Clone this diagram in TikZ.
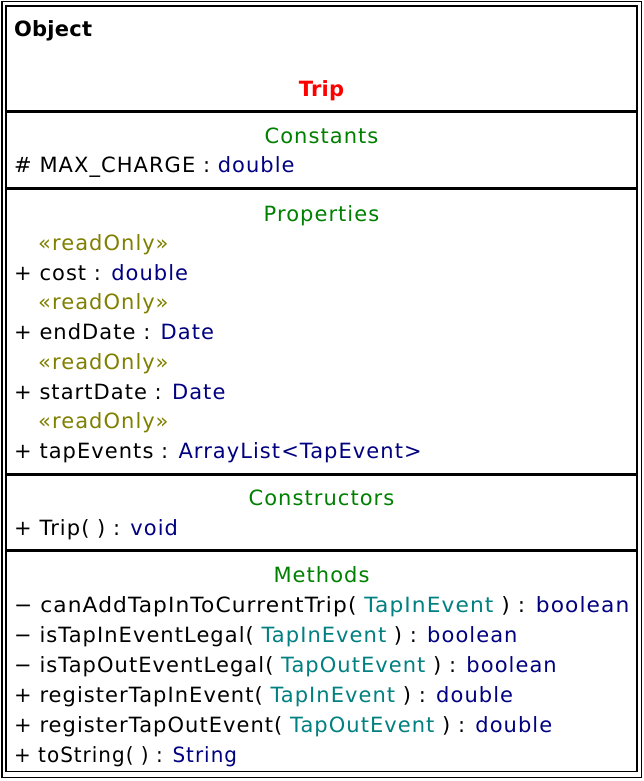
\documentclass[tikz,border=0pt]{standalone}
\usepackage{fontspec}
\setmainfont[LetterSpace=5,BoldFeatures={LetterSpace=1}]{DejaVu Sans}
\definecolor{umlred}{RGB}{255,0,0}
\definecolor{umlgreen}{RGB}{0,128,0}
\definecolor{umlolive}{RGB}{128,128,0}
\definecolor{umlnavy}{RGB}{0,0,128}
\definecolor{umlteal}{RGB}{0,128,128}
\newcommand{\ty}[1]{\textcolor{umlnavy}{#1}}
\newcommand{\pa}[1]{\textcolor{umlteal}{#1}}
\begin{document}
\begin{tikzpicture}[x=1pt,y=-1pt,
  txt/.style={anchor=base west,inner sep=0pt,font=\fontsize{21}{26}\selectfont},
  head/.style={anchor=base,inner sep=0pt,font=\fontsize{21}{26}\selectfont,text=umlgreen},
  ro/.style={txt,text=umlolive},
  sep/.style={line width=3pt},
  frame/.style={line width=1.5pt}]
\useasboundingbox (0,0) rectangle (644,781);
\fill[white] (0,0) rectangle (644,781);
\draw[frame] (1.75,1.75) rectangle (641.25,777.25);
\draw[frame] (6,6) rectangle (637,771.5);
\draw[sep] (6,111.5) -- (637,111.5);
\draw[sep] (6,188) -- (637,188);
\draw[sep] (6,474) -- (637,474);
\draw[sep] (6,550) -- (637,550);
\node[txt,font=\fontsize{21}{26}\selectfont\bfseries] (obj) at (14,37) {Object};
\node[head,text=umlred,font=\fontsize{21}{26}\selectfont\bfseries] (title) at (321.5,97) {Trip};
\node[head] (hconst) at (321.5,143) {Constants};
\node[txt] (c1) at (14,172) {\# MAX\_CHARGE : \ty{double}};
\node[head] (hprop) at (321.5,221) {Properties};
\node[ro] (r1) at (38,250) {«readOnly»};
\node[txt] (p1) at (14,280) {+ cost : \ty{double}};
\node[ro] (r2) at (38,309.5) {«readOnly»};
\node[txt] (p2) at (14,339) {+ endDate : \ty{Date}};
\node[ro] (r3) at (38,369) {«readOnly»};
\node[txt] (p3) at (14,399) {+ startDate : \ty{Date}};
\node[ro] (r4) at (38,428.5) {«readOnly»};
\node[txt] (p4) at (14,458) {+ tapEvents : \ty{ArrayList<TapEvent>}};
\node[head] (hcons) at (321.5,505) {Constructors};
\node[txt] (k1) at (14,535) {+ Trip( ) : \ty{void}};
\node[head] (hmeth) at (321.5,582) {Methods};
\node[txt] (m1) at (14,612) {\scalebox{1.035}[1]{− canAddTapInToCurrentTrip( \pa{TapInEvent} ) : \ty{boolean}}};
\node[txt] (m2) at (14,642) {− isTapInEventLegal( \pa{TapInEvent} ) : \ty{boolean}};
\node[txt] (m3) at (14,672) {− isTapOutEventLegal( \pa{TapOutEvent} ) : \ty{boolean}};
\node[txt] (m4) at (14,702) {+ registerTapInEvent( \pa{TapInEvent} ) : \ty{double}};
\node[txt] (m5) at (14,732) {+ registerTapOutEvent( \pa{TapOutEvent} ) : \ty{double}};
\node[txt] (m6) at (14,762) {\scalebox{0.95}[1]{+ toString( ) : \ty{String}}};
\end{tikzpicture}
\end{document}
